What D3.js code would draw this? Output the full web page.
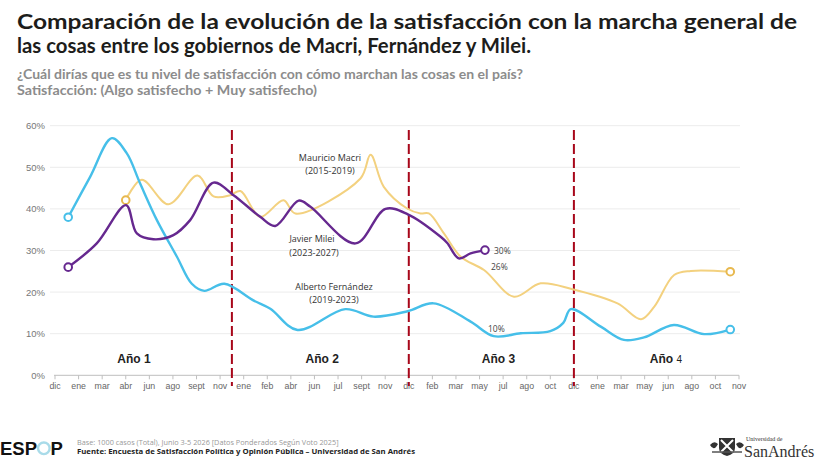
<!DOCTYPE html>
<html>
<head>
<meta charset="utf-8">
<script src="https://cdn.jsdelivr.net/npm/d3@7/dist/d3.min.js"></script>
<style>
  body { margin: 0; background: #fff; }
  svg { display: block; }
</style>
</head>
<body>
<div id="chart"></div>
<script>
// tick labels (survey waves, left to right)
var waveLabels = ["dic","ene","mar","abr","jun","ago","sept","nov","ene","feb","abr","jun","jul","sept","nov",
                  "dic","feb","mar","may","jul","ago","oct","dic","ene","mar","may","jun","ago","oct","nov"];
var yTicks = [0, 10, 20, 30, 40, 50, 60];

// [wave position, % satisfied]
var fernandez = [[0.56,38],[1.49,47.7],[2.41,57],[3.04,53.4],[3.61,46.1],[4.32,37.3],[5.17,28.5],[5.8,22],
  [6.33,20.3],[7.18,22],[8.41,18],[9.13,16],[10.28,10.9],[12.31,15.9],[13.5,14.1],[14.95,15.4],[16.05,17.3],
  [17.62,12.9],[18.6,9.4],[19.75,10.1],[21.0,10.6],[21.55,12.6],[21.87,15.9],[23.14,11.7],[24.12,8.5],
  [24.97,9.1],[26.24,12.1],[27.52,9.9],[28.63,11.0]];
var macri = [[3.0,42.1],[3.68,47],[4.81,41.1],[6.04,48],[6.72,43],[7.43,43.3],[7.86,44.3],[8.7,38.1],
  [9.69,42.1],[10.19,38.9],[12.95,47.3],[13.38,53],[13.94,45.3],[14.93,40.1],[15.5,38.9],[15.85,38.9],
  [16.49,34.1],[17.2,28.5],[18.19,25.3],[19.46,18.9],[20.59,22.1],[21.94,20.7],[23.85,17.3],[24.85,13.5],
  [25.41,16.5],[26.25,24.1],[26.96,25.1],[28.63,24.9]];
var milei = [[0.56,26],[1.77,31.7],[3.01,40.9],[3.47,34.1],[4.17,32.7],[5.02,33.7],[5.73,37.3],[6.72,46.3],
  [7.57,43.3],[8.7,38.1],[9.34,35.9],[10.33,42],[10.83,40.5],[12.74,31.7],[14.01,40],[14.96,38.7],
  [16.35,33.3],[16.63,31.8],[17.12,28.1],[17.62,29.3],[18.23,30.1]];

var yearBreaks = [7.5, 15, 22];
var yearNames = [{pos: 3.35, num: "1"}, {pos: 11.33, num: "2"}, {pos: 18.8, num: "3"}, {pos: 25.9, num: "4"}];

var W = 819, H = 460;
var svg = d3.select("#chart").append("svg").attr("width", W).attr("height", H);

var x = d3.scaleLinear().domain([0, 29]).range([55, 739]);
var y = d3.scaleLinear().domain([0, 60]).range([375.3, 125.7]);

// title
var title = svg.append("g").attr("font-family", "Lato, 'Open Sans', sans-serif").attr("font-weight", "bold")
  .attr("fill", "#1d1d1b").attr("font-size", 20.5);
title.append("text").attr("x", 17).attr("y", 28.5)
  .attr("textLength", 780).attr("lengthAdjust", "spacingAndGlyphs")
  .text("Comparación de la evolución de la satisfacción con la marcha general de");
title.append("text").attr("x", 17).attr("y", 52.5)
  .attr("textLength", 514).attr("lengthAdjust", "spacingAndGlyphs")
  .text("las cosas entre los gobiernos de Macri, Fernández y Milei.");
var sub = svg.append("g").attr("font-family", "Lato, sans-serif").attr("font-weight", "bold").attr("fill", "#8c8c8c").attr("font-size", 12.5);
sub.append("text").attr("x", 17).attr("y", 79).attr("textLength", 506).attr("lengthAdjust", "spacingAndGlyphs")
  .text("¿Cuál dirías que es tu nivel de satisfacción con cómo marchan las cosas en el país?");
sub.append("text").attr("x", 17).attr("y", 95).attr("textLength", 300).attr("lengthAdjust", "spacingAndGlyphs")
  .text("Satisfacción: (Algo satisfecho + Muy satisfecho)");

// grid + y labels
svg.append("g").selectAll("line").data(yTicks.filter(function(d){ return d > 0; })).join("line")
  .attr("x1", 50).attr("x2", 740).attr("y1", function(d){ return y(d); }).attr("y2", function(d){ return y(d); })
  .attr("stroke", "#ececec").attr("stroke-width", 1);
svg.append("g").selectAll("text").data(yTicks).join("text")
  .attr("x", 45).attr("y", function(d){ return y(d) + 3.5; }).attr("text-anchor", "end")
  .attr("font-family", "'Liberation Sans', Arial, sans-serif").attr("font-size", 9.5).attr("fill", "#777")
  .text(function(d){ return d + "%"; });

// x axis
svg.append("line").attr("x1", 54).attr("x2", 739).attr("y1", y(0)).attr("y2", y(0))
  .attr("stroke", "#bfbfbf").attr("stroke-width", 1);
svg.append("g").selectAll("line").data(waveLabels).join("line")
  .attr("x1", function(d, i){ return x(i); }).attr("x2", function(d, i){ return x(i); })
  .attr("y1", y(0)).attr("y2", y(0) + 4).attr("stroke", "#bfbfbf");
svg.append("g").selectAll("text").data(waveLabels).join("text")
  .attr("x", function(d, i){ return x(i); }).attr("y", 389).attr("text-anchor", "middle")
  .attr("font-family", "'Liberation Sans', Arial, sans-serif").attr("font-size", 8.8).attr("fill", "#666")
  .text(function(d){ return d; });

// year separators
svg.append("g").selectAll("line").data(yearBreaks).join("line")
  .attr("x1", function(d){ return x(d); }).attr("x2", function(d){ return x(d); })
  .attr("y1", 130).attr("y2", 386)
  .attr("stroke", "#a8071a").attr("stroke-width", 2).attr("stroke-dasharray", "10,4");

// year labels
var yl = svg.append("g").attr("font-family", "'Liberation Sans', Arial, sans-serif").attr("fill", "#222");
yearNames.forEach(function(d) {
  var t = yl.append("text").attr("x", x(d.pos)).attr("y", 363).attr("text-anchor", "middle");
  t.append("tspan").attr("font-weight", "bold").attr("font-size", 12).text("Año ");
  if (d.num === "4") t.append("tspan").attr("font-size", 10).text(d.num);
  else t.append("tspan").attr("font-weight", "bold").attr("font-size", 12).text(d.num);
});

// lines
var line = d3.line().x(function(d){ return x(d[0]); }).y(function(d){ return y(d[1]); })
  .curve(d3.curveCatmullRom.alpha(0.5));
var series = [
  {data: macri, color: "#f3d17f", ring: "#e8b94f", w: 2},
  {data: fernandez, color: "#46bfe9", ring: "#46bfe9", w: 2.4},
  {data: milei, color: "#66288f", ring: "#66288f", w: 2.4}
];
series.forEach(function(s) {
  svg.append("path").datum(s.data).attr("d", line).attr("fill", "none")
    .attr("stroke", s.color).attr("stroke-width", s.w).attr("stroke-linejoin", "round");
  var ends = [s.data[0], s.data[s.data.length - 1]];
  svg.append("g").selectAll("circle").data(ends).join("circle")
    .attr("cx", function(d){ return x(d[0]); }).attr("cy", function(d){ return y(d[1]); }).attr("r", 3.8)
    .attr("fill", "#fff").attr("stroke", s.ring).attr("stroke-width", 2);
});

// annotations
var ann = svg.append("g").attr("font-family", "'Open Sans', 'Noto Sans', sans-serif").attr("font-size", 9).attr("fill", "#333").attr("text-anchor", "middle");
[["Mauricio Macri", 330, 161], ["(2015-2019)", 330, 174],
 ["Javier Milei", 312, 242], ["(2023-2027)", 314, 256],
 ["Alberto Fernández", 334, 290], ["(2019-2023)", 334, 303]].forEach(function(a) {
  ann.append("text").attr("x", a[1]).attr("y", a[2]).text(a[0]);
});
var vals = svg.append("g").attr("font-family", "'Open Sans', 'Noto Sans', sans-serif").attr("font-size", 8.5).attr("fill", "#444");
vals.append("text").attr("x", x(milei[milei.length - 1][0]) + 9).attr("y", 254).text(milei[milei.length - 1][1].toFixed(0) + "%");
vals.append("text").attr("x", 491).attr("y", 270).text("26%");
vals.append("text").attr("x", 488).attr("y", 332).text("10%");

// footer
var foot = svg.append("g");
var esp = foot.append("text").attr("x", 0).attr("y", 455).attr("font-family", "'Liberation Sans', Arial, sans-serif")
  .attr("font-weight", "bold").attr("font-size", 18.5).attr("fill", "#111").text("ESP");
var ew = esp.node().getComputedTextLength();
foot.append("circle").attr("cx", ew + 6.8).attr("cy", 448.3).attr("r", 5.8).attr("fill", "none")
  .attr("stroke", "#a9dbe9").attr("stroke-width", 2.4);
foot.append("text").attr("x", ew + 13.5).attr("y", 455).attr("font-family", "'Liberation Sans', Arial, sans-serif")
  .attr("font-weight", "bold").attr("font-size", 18.5).attr("fill", "#111").text("P");
foot.append("text").attr("x", 77).attr("y", 445).attr("font-family", "'Open Sans', sans-serif").attr("font-size", 7.3)
  .attr("fill", "#999").text("Base: 1000 casos (Total), Junio 3-5 2026 [Datos Ponderados Según Voto 2025]");
foot.append("text").attr("x", 77).attr("y", 454).attr("font-family", "'Open Sans', sans-serif").attr("font-size", 7.3)
  .attr("font-weight", "bold").attr("fill", "#222").attr("textLength", 338).attr("lengthAdjust", "spacingAndGlyphs")
  .text("Fuente: Encuesta de Satisfacción Política y Opinión Pública – Universidad de San Andrés");

// San Andrés logo
var logo = foot.append("g").attr("fill", "#333");
logo.append("path").attr("d", "M719,438 L735,438 L735,448 Q735,454 727,456 Q719,454 719,448 Z").attr("fill", "#333");
logo.append("path").attr("d", "M721,440 L733,452 M733,440 L721,452").attr("stroke", "#fff").attr("stroke-width", 2);
logo.append("path").attr("d", "M710,445 Q714,440 718,444 Q714,452 710,445 Z M736,444 Q740,440 744,445 Q740,452 736,444 Z");
logo.append("path").attr("d", "M712,452 L742,452").attr("stroke", "#555").attr("stroke-width", 1.5);
logo.append("text").attr("x", 746).attr("y", 440.5).attr("font-family", "'Liberation Serif', serif").attr("font-size", 6).text("Universidad de");
logo.append("text").attr("x", 744).attr("y", 457).attr("font-family", "'Liberation Serif', serif").attr("font-size", 16).text("SanAndrés");
</script>
</body>
</html>
